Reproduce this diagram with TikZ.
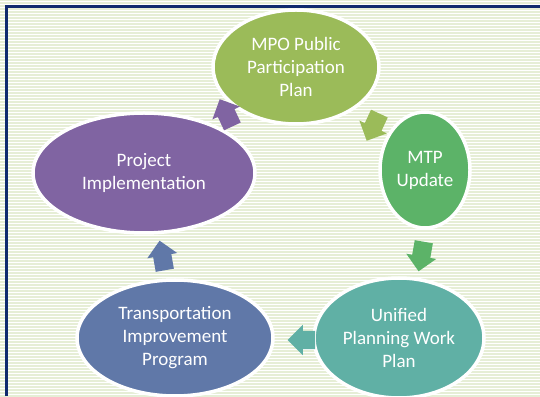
\documentclass[tikz,border=0pt]{standalone}
\usepackage{fontspec}
\setmainfont{Carlito}
\usetikzlibrary{shapes.geometric,shapes.arrows}
\definecolor{mpogreen}{RGB}{155,187,89}
\definecolor{mtpgreen}{RGB}{92,179,104}
\definecolor{upwpteal}{RGB}{96,176,165}
\definecolor{tipblue}{RGB}{96,120,168}
\definecolor{projpurple}{RGB}{128,100,162}
\definecolor{framenavy}{RGB}{16,42,110}
\definecolor{stripe}{RGB}{230,238,214}

\begin{document}
\begin{tikzpicture}[x=1pt,y=1pt]

  \tikzstyle{stage}=[ellipse,draw=white,line width=3.5pt,text=white,align=center,inner sep=0pt,font=\fontsize{19}{23}\selectfont]
  \tikzstyle{turn}=[single arrow,single arrow head extend=6pt,inner sep=9pt,minimum height=30pt]

  \useasboundingbox (0,0) rectangle (540,396);
  \clip (0,0) rectangle (540,396);
  \fill[white] (0,0) rectangle (540,396);
  \foreach \y in {0,3,...,396}
    \draw[stripe,line width=1.4pt] (0,\y) -- (540,\y);
  \draw[framenavy,line width=3pt] (6.5,0) -- (6.5,389.5) -- (540,389.5);

  \node[stage,fill=mpogreen,minimum width=166pt,minimum height=114pt] (mpo) at (296,329) {MPO Public\\Participation\\Plan};
  \node[stage,fill=mtpgreen,minimum width=90pt,minimum height=116pt] (mtp) at (425,226) {MTP\\Update};
  \node[stage,fill=upwpteal,minimum width=170pt,minimum height=120pt] (upwp) at (399,58) {Unified\\Planning Work\\Plan};
  \node[stage,fill=tipblue,minimum width=196pt,minimum height=116pt] (tip) at (175,58) {Transportation\\Improvement\\Program};
  \node[stage,fill=projpurple,minimum width=222pt,minimum height=120pt] (proj) at (144,223) {Project\\Implementation};

  \node[turn,fill=projpurple,rotate=115] (a1) at (228,279) {};
  \node[turn,fill=mpogreen,rotate=-115] (a2) at (375,273) {};
  \node[turn,fill=mtpgreen,rotate=-100] (a3) at (422,144) {};
  \node[turn,fill=upwpteal,rotate=180,minimum height=24pt] (a4) at (306,56) {};
  \node[turn,fill=tipblue,rotate=100] (a5) at (163,136) {};

\end{tikzpicture}
\end{document}
